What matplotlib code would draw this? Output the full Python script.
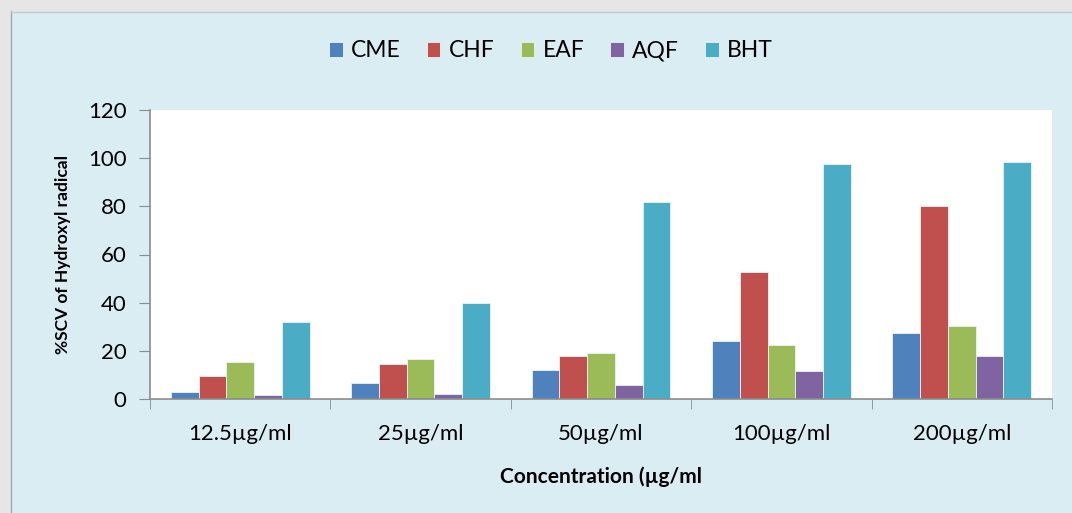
import numpy as np
import matplotlib.pyplot as plt
from matplotlib.patches import Rectangle

plt.rcParams['font.family'] = ['Lato', 'DejaVu Sans']

# data
categories = ['12.5µg/ml', '25µg/ml', '50µg/ml', '100µg/ml', '200µg/ml']
series_names = ['CME', 'CHF', 'EAF', 'AQF', 'BHT']
cme = [3.0, 6.6, 12.2, 23.9, 27.5]
chf = [9.5, 14.7, 18.0, 52.8, 80.3]
eaf = [15.4, 16.7, 18.9, 22.5, 30.4]
aqf = [1.5, 2.2, 5.7, 11.7, 18.0]
bht = [32.0, 39.8, 81.6, 97.6, 98.3]
colors = ['#4F81BD', '#C0504D', '#9BBB59', '#8064A2', '#4BACC6']

values = [cme, chf, eaf, aqf, bht]

fig = plt.figure(figsize=(10.72, 5.13), dpi=100, facecolor='#DAEDF3')

# grey frame on the left and top like the screenshot
fig.patches.append(Rectangle((0, 0), 10/1072, 1, transform=fig.transFigure,
                             facecolor='#E6E6E6', edgecolor='none', zorder=0))
fig.patches.append(Rectangle((0, 1-11/513), 1, 11/513, transform=fig.transFigure,
                             facecolor='#E6E6E6', edgecolor='none', zorder=0))
fig.lines.append(plt.Line2D([10.5/1072, 10.5/1072], [0, 1-11/513], transform=fig.transFigure,
                            color='#A6A6A6', lw=1))
fig.lines.append(plt.Line2D([10.5/1072, 1], [1-11.5/513, 1-11.5/513], transform=fig.transFigure,
                            color='#C8C8C8', lw=1))

ax = fig.add_axes([150/1072, 1-399/513, 902/1072, 289/513])
ax.set_facecolor('white')

x = np.arange(len(categories))
w = 1/6.5
for i, (name, vals) in enumerate(zip(series_names, values)):
    ax.bar(x + (i - 2) * w, vals, width=w, color=colors[i], label=name,
           edgecolor='#EAF3F8', linewidth=0.6)

ax.set_xlim(-0.5, len(categories) - 0.5)
ax.set_ylim(0, 120)
ax.set_yticks(range(0, 121, 20))
ax.set_xticks(x)
ax.set_xticklabels(categories)
ax.set_xticks(np.arange(-0.5, len(categories), 1), minor=True)
ax.tick_params(axis='x', which='major', length=0, labelsize=16, pad=18)
ax.tick_params(axis='x', which='minor', length=7, color='#8C8C8C', direction='out')
ax.tick_params(axis='y', length=8, color='#8C8C8C', labelsize=16, pad=9)

for s in ['top', 'right']:
    ax.spines[s].set_visible(False)
for s in ['left', 'bottom']:
    ax.spines[s].set_color('#8C8C8C')
    ax.spines[s].set_linewidth(1.2)

ax.set_xlabel('Concentration (µg/ml', fontsize=15, fontweight='bold', labelpad=16)
ax.set_ylabel('%SCV of Hydroxyl radical', fontsize=12.5, fontweight='bold', labelpad=12)

fig.legend(loc='center', bbox_to_anchor=(551/1072, 1-51/513), ncol=5, frameon=False,
           fontsize=16.5, handlelength=0.6, handleheight=0.6, handletextpad=0.35,
           columnspacing=1.15)

fig.savefig('out.png', dpi=100, facecolor=fig.get_facecolor())
